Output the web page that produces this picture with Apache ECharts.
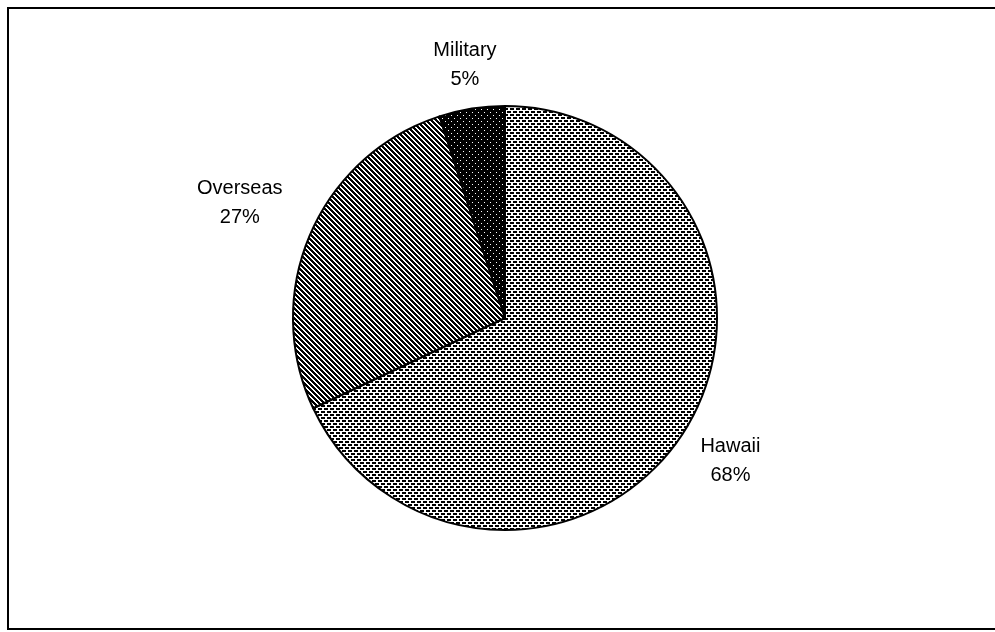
<!DOCTYPE html>
<html>
<head>
<meta charset="utf-8">
<script src="https://cdn.jsdelivr.net/npm/echarts@6/dist/echarts.min.js"></script>
<style>
html, body { margin: 0; padding: 0; background: #fff; }
#chart { width: 995px; height: 632px; }
</style>
</head>
<body>
<div id="chart"></div>
<script>
// share by location
var names = ['Hawaii', 'Overseas', 'Military'];
var values = [68, 27, 5];

// pie geometry (px)
var cx = 505, cy = 318, radius = 212;
// how far each label sits from the centre
var labelDist = [267, 289, 256];

// small tiles used as hatch fills
function makeTile(w, h, isBlack) {
	var c = document.createElement('canvas');
	c.width = w; c.height = h;
	var ctx = c.getContext('2d');
	ctx.fillStyle = '#fff';
	ctx.fillRect(0, 0, w, h);
	ctx.fillStyle = '#000';
	for (var y = 0; y < h; y++) {
		for (var x = 0; x < w; x++) {
			if (isBlack(x, y)) ctx.fillRect(x, y, 1, 1);
		}
	}
	return c;
}

// Hawaii: staggered dashes
var dashTile = makeTile(6, 6, function(x, y) {
	if (y == 0 || y == 1) return x < 4;
	if (y == 3 || y == 4) return x >= 3 || x == 0;
	return false;
});
// Overseas: diagonal stripes
var stripeTile = makeTile(5, 5, function(x, y) {
	var k = ((x - y) % 5 + 5) % 5;
	return k < 3;
});
// Military: dark with white dots
var dotTile = makeTile(6, 6, function(x, y) {
	if (y == 1 && x == 1) return false;
	if (y == 4 && x == 4) return false;
	return true;
});
var fills = [dashTile, stripeTile, dotTile];

var total = 0;
for (var i = 0; i < values.length; i++) total += values[i];

var pieData = [];
for (var i = 0; i < names.length; i++) {
	pieData.push({
		name: names[i],
		value: values[i],
		itemStyle: { color: { image: fills[i], repeat: 'repeat' } }
	});
}

var chart = echarts.init(document.getElementById('chart'));
var option = {
	animation: false,
	backgroundColor: '#fff',
	graphic: [{
		type: 'rect',
		shape: { x: 8, y: 8, width: 1000, height: 621 },
		style: { fill: 'none', stroke: '#000', lineWidth: 2 },
		silent: true
	}],
	series: [{
		type: 'pie',
		center: [cx, cy],
		radius: radius,
		startAngle: 90,
		clockwise: true,
		avoidLabelOverlap: false,
		data: pieData,
		itemStyle: { borderColor: '#000', borderWidth: 2 },
		emphasis: { disabled: true },
		label: {
			show: true,
			position: 'outside',
			formatter: function(p) {
				return p.name + '\n' + Math.round(p.value / total * 100) + '%';
			},
			fontFamily: 'Liberation Sans, Arial, sans-serif',
			fontSize: 20,
			lineHeight: 29,
			color: '#000'
		},
		labelLine: { show: false },
		labelLayout: function(p) {
			var before = 0;
			for (var j = 0; j < p.dataIndex; j++) before += values[j];
			var mid = (before + values[p.dataIndex] / 2) / total * Math.PI * 2;
			var d = labelDist[p.dataIndex];
			return {
				x: cx + d * Math.sin(mid),
				y: cy - d * Math.cos(mid),
				align: 'center',
				verticalAlign: 'middle'
			};
		}
	}]
};
chart.setOption(option);
</script>
</body>
</html>
